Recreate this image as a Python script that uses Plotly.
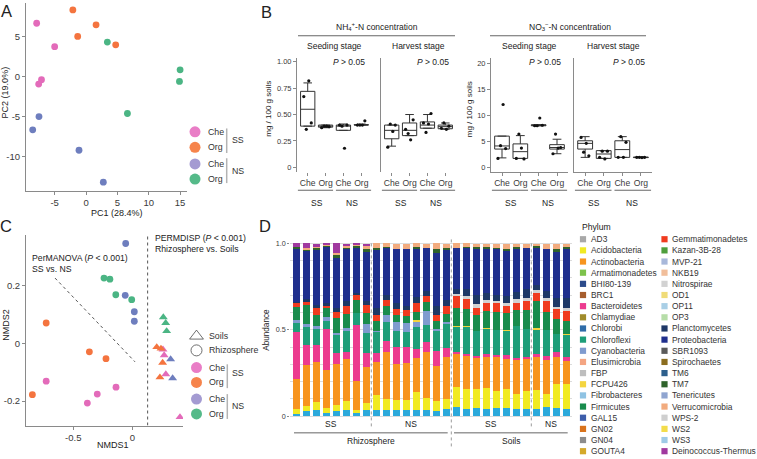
import plotly.graph_objects as go

W, H = 757, 459
FONT = "Liberation Sans, Arial, Helvetica, sans-serif"
TXT = "#222222"
TICK = "#3a3a3a"
AXC = "#8a8a8a"

# ---------------- Panel A : PCA ----------------
A_CHE_SS_PC1 = [-7.87, -5.0, -7.1, -7.55]
A_CHE_SS_PC2 = [6.7, 3.77, -0.37, -0.92]
A_ORG_SS_PC1 = [-2.1, 1.6, -1.33, 4.73]
A_ORG_SS_PC2 = [8.37, 6.5, 5.05, 4.0]
A_CHE_NS_PC1 = [-7.5, -8.5, -1.12, 2.76]
A_CHE_NS_PC2 = [-4.98, -6.64, -9.2, -13.2]
A_ORG_NS_PC1 = [3.4, 15.0, 14.9, 6.6]
A_ORG_NS_PC2 = [4.35, 0.87, -0.58, -4.6]
A_XTICKS = [-5, 0, 5, 10, 15]
A_YTICKS = [-10, -5, 0, 5]

GROUP_LABELS = ["Che", "Org", "Che", "Org"]
STAGES = ["SS", "NS"]
GROUP_COLORS = ["#E36BBA", "#F4743F", "#6E7EBE", "#4BB584"]
LEGEND_COLORS = ["#E97DC6", "#F6844C", "#A49BD2", "#55BA89"]

# ---------------- Panel B : boxplots ----------------
CATS = ["Che", "Org", "Che", "Org"]
NH4_SEED_Q1 = [0.39, 0.38, 0.35, 0.40]
NH4_SEED_MED = [0.55, 0.39, 0.39, 0.40]
NH4_SEED_Q3 = [0.72, 0.40, 0.40, 0.405]
NH4_SEED_LO = [0.39, 0.375, 0.35, 0.40]
NH4_SEED_HI = [0.80, 0.40, 0.41, 0.41]
NH4_SEED_PTS = [[0.67, 0.36, 0.82, 0.42], [0.375, 0.39, 0.39, 0.385],
                [0.40, 0.39, 0.18, 0.40], [0.40, 0.40, 0.40, 0.44]]

NH4_HARV_Q1 = [0.27, 0.30, 0.37, 0.365]
NH4_HARV_MED = [0.35, 0.35, 0.40, 0.385]
NH4_HARV_Q3 = [0.40, 0.42, 0.43, 0.40]
NH4_HARV_LO = [0.20, 0.30, 0.37, 0.36]
NH4_HARV_HI = [0.40, 0.50, 0.50, 0.42]
NH4_HARV_PTS = [[0.19, 0.41, 0.34, 0.40], [0.36, 0.32, 0.26, 0.45],
                [0.42, 0.33, 0.41, 0.51], [0.37, 0.42, 0.36, 0.39]]

NO3_SEED_Q1 = [3.5, 1.7, 8.0, 3.5]
NO3_SEED_MED = [4.1, 3.0, 8.1, 3.8]
NO3_SEED_Q3 = [6.0, 4.5, 8.2, 4.35]
NO3_SEED_LO = [1.8, 1.7, 8.0, 2.6]
NO3_SEED_HI = [6.0, 6.1, 8.2, 5.4]
NO3_SEED_PTS = [[1.7, 4.15, 12.1, 3.6], [1.7, 6.4, 3.7, 1.6],
                [8.0, 8.0, 9.5, 8.1], [2.6, 6.4, 3.7, 3.8]]

NO3_HARV_Q1 = [3.5, 1.7, 1.9, 1.85]
NO3_HARV_MED = [4.6, 2.55, 3.4, 1.9]
NO3_HARV_Q3 = [5.1, 3.2, 5.1, 1.95]
NO3_HARV_LO = [1.9, 1.7, 1.9, 1.85]
NO3_HARV_HI = [5.9, 3.2, 5.9, 1.95]
NO3_HARV_PTS = [[5.75, 2.9, 4.6, 2.2], [1.9, 3.1, 1.6, 3.1],
                [1.9, 5.9, 1.9, 4.8], [1.9, 1.9, 1.85, 1.9]]
JIT = [-0.22, -0.08, 0.06, 0.2]

NH4_TICKS = [0, 0.25, 0.5, 0.75, 1.0]
NH4_TICKTEXT = ["0", "0.25", "0.50", "0.75", "1.00"]
NO3_TICKS = [0, 5, 10, 15, 20]

# ---------------- Panel C : NMDS ----------------
C_CHE_SS_R_X = [-0.73, -0.297, -0.138, -0.381]
C_CHE_SS_R_Y = [-0.131, -0.176, -0.152, -0.207]
C_ORG_SS_R_X = [-0.73, -0.364, -0.223, -0.847]
C_ORG_SS_R_Y = [0.071, -0.029, -0.053, -0.178]
C_CHE_NS_R_X = [-0.056, -0.06, 0.017, 0.017]
C_CHE_NS_R_Y = [0.347, 0.167, 0.11, 0.077]
C_ORG_NS_R_X = [-0.24, -0.19, -0.14, -0.005]
C_ORG_NS_R_Y = [0.227, 0.223, 0.169, 0.152]
C_CHE_SS_S_X = [0.26, 0.27, 0.284, 0.404]
C_CHE_SS_S_Y = [-0.021, -0.041, -0.107, -0.256]
C_ORG_SS_S_X = [0.207, 0.243, 0.257, 0.234]
C_ORG_SS_S_Y = [-0.013, -0.018, -0.067, -0.118]
C_CHE_NS_S_X = [0.325, 0.342]
C_CHE_NS_S_Y = [-0.055, -0.121]
C_ORG_NS_S_X = [0.263, 0.283, 0.291]
C_ORG_NS_S_Y = [0.091, 0.071, 0.043]
PERMDISP_X = 0.13
MANOVA_LINE_X = [-0.655, 0.023]
MANOVA_LINE_Y = [0.227, -0.064]

# ---------------- Panel D : stacked bars ----------------
BAR_GROUPS = [("SS", 8), ("NS", 8), ("SS", 8), ("NS", 4)]
COMPARTMENTS = [("Rhizosphere", 16), ("Soils", 12)]

others = [0.015, 0.031, 0.034, 0.021, 0.031, 0.034, 0.019, 0.036,
          0.038, 0.034, 0.038, 0.034, 0.038, 0.034, 0.031, 0.040,
          0.054, 0.044, 0.048, 0.044, 0.048, 0.048, 0.044, 0.044,
          0.040, 0.054, 0.048, 0.040]
acidobacteria = [0.025, 0.029, 0.048, 0.029, 0.036, 0.057, 0.015, 0.040,
                 0.086, 0.067, 0.054, 0.061, 0.102, 0.071, 0.057, 0.057,
                 0.115, 0.111, 0.107, 0.119, 0.100, 0.111, 0.086, 0.105,
                 0.113, 0.077, 0.140, 0.144]
actinobacteria = [0.176, 0.238, 0.230, 0.215, 0.236, 0.243, 0.169, 0.207,
                  0.188, 0.268, 0.211, 0.216, 0.195, 0.264, 0.205, 0.243,
                  0.192, 0.192, 0.180, 0.178, 0.192, 0.172, 0.197, 0.182,
                  0.188, 0.197, 0.153, 0.138]
bacteroidetes = [0.274, 0.115, 0.100, 0.240, 0.063, 0.038, 0.324, 0.082,
                 0.054, 0.067, 0.096, 0.090, 0.054, 0.061, 0.086, 0.057,
                 0.010, 0.013, 0.015, 0.019, 0.013, 0.023, 0.010, 0.010,
                 0.019, 0.019, 0.029, 0.019]
chloroflexi = [0.052, 0.102, 0.090, 0.048, 0.103, 0.121, 0.069, 0.119,
               0.119, 0.109, 0.092, 0.088, 0.128, 0.096, 0.115, 0.134,
               0.144, 0.159, 0.144, 0.144, 0.146, 0.140, 0.186, 0.163,
               0.140, 0.151, 0.105, 0.128]
cyanobacteria = [0.015, 0.019, 0.019, 0.019, 0.015, 0.019, 0.0, 0.048,
                 0.010, 0.038, 0.052, 0.048, 0.031, 0.082, 0.010, 0.013,
                 0.0, 0.0, 0.0, 0.0, 0.0, 0.0, 0.0, 0.0,
                 0.0, 0.0, 0.0, 0.0]
fcpu426 = [0.0, 0.0, 0.0, 0.0, 0.0, 0.0, 0.0, 0.0,
           0.0, 0.0, 0.0, 0.0, 0.006, 0.0, 0.0, 0.0,
           0.006, 0.004, 0.0, 0.008, 0.0, 0.004, 0.0, 0.0,
           0.008, 0.0, 0.0, 0.006]
firmicutes = [0.077, 0.109, 0.063, 0.052, 0.086, 0.077, 0.077, 0.067,
              0.057, 0.054, 0.042, 0.042, 0.050, 0.052, 0.048, 0.050,
              0.103, 0.100, 0.092, 0.098, 0.103, 0.098, 0.092, 0.111,
              0.159, 0.105, 0.086, 0.077]
gemmatimonadetes = [0.019, 0.019, 0.042, 0.015, 0.033, 0.048, 0.027, 0.042,
                    0.034, 0.038, 0.034, 0.034, 0.054, 0.034, 0.033, 0.042,
                    0.073, 0.057, 0.042, 0.048, 0.054, 0.042, 0.042, 0.052,
                    0.048, 0.063, 0.057, 0.057]
nitrospirae = [0.0, 0.0, 0.0, 0.0, 0.0, 0.0, 0.0, 0.0,
               0.0, 0.0, 0.0, 0.0, 0.0, 0.0, 0.0, 0.0,
               0.010, 0.013, 0.019, 0.013, 0.008, 0.019, 0.019, 0.019,
               0.013, 0.019, 0.015, 0.019]
planctomycetes = [0.010, 0.015, 0.019, 0.015, 0.025, 0.029, 0.015, 0.025,
                  0.042, 0.029, 0.038, 0.023, 0.033, 0.029, 0.054, 0.038,
                  0.029, 0.044, 0.052, 0.044, 0.040, 0.038, 0.042, 0.048,
                  0.034, 0.038, 0.052, 0.057]
proteobacteria = [0.305, 0.278, 0.320, 0.325, 0.287, 0.300, 0.259, 0.287,
                  0.335, 0.268, 0.310, 0.330, 0.278, 0.249, 0.307, 0.291,
                  0.239, 0.234, 0.268, 0.253, 0.262, 0.259, 0.249, 0.239,
                  0.211, 0.243, 0.268, 0.282]
tm7 = [0.010, 0.010, 0.010, 0.006, 0.019, 0.010, 0.010, 0.013,
       0.010, 0.006, 0.0, 0.0, 0.010, 0.0, 0.023, 0.010,
       0.0, 0.010, 0.010, 0.010, 0.008, 0.013, 0.011, 0.0,
       0.010, 0.0, 0.013, 0.010]
verrucomicrobia = [0.004, 0.008, 0.006, 0.004, 0.010, 0.008, 0.008, 0.017,
                   0.027, 0.025, 0.031, 0.031, 0.021, 0.025, 0.031, 0.021,
                   0.025, 0.021, 0.021, 0.021, 0.023, 0.031, 0.019, 0.025,
                   0.015, 0.031, 0.031, 0.021]
deinococcus = [0.019, 0.029, 0.017, 0.013, 0.056, 0.015, 0.010, 0.015,
               0.0, 0.0, 0.0, 0.0, 0.0, 0.0, 0.0, 0.0,
               0.0, 0.0, 0.0, 0.0, 0.0, 0.0, 0.0, 0.0,
               0.0, 0.0, 0.0, 0.0]
OTHERS_COLOR = "#2CA9DB"

PHYLA = ["AD3", "Acidobacteria", "Actinobacteria", "Armatimonadetes", "BHI80-139",
         "BRC1", "Bacteroidetes", "Chlamydiae", "Chlorobi", "Chloroflexi",
         "Cyanobacteria", "Elusimicrobia", "FBP", "FCPU426", "Fibrobacteres",
         "Firmicutes", "GAL15", "GN02", "GN04", "GOUTA4",
         "Gemmatimonadetes", "Kazan-3B-28", "MVP-21", "NKB19", "Nitrospirae",
         "OD1", "OP11", "OP3", "Planctomycetes", "Proteobacteria",
         "SBR1093", "Spirochaetes", "TM6", "TM7", "Tenericutes",
         "Verrucomicrobia", "WPS-2", "WS2", "WS3", "Deinococcus-Thermus"]
PHYLUM_COLORS = ["#A8A8A8", "#F1EA22", "#F7941E", "#7DC24B", "#2C4B8B",
                 "#A65E2E", "#EC3B8F", "#A08B2B", "#2F6CA8", "#1E9E79",
                 "#7F9BCF", "#F4A582", "#BEBEBE", "#F4D53F", "#8FC3E3",
                 "#198C4D", "#3D5DAA", "#D9731C", "#8C8C8C", "#D4A92A",
                 "#F03B1F", "#4E9E3C", "#A8B8DA", "#F1BE9B", "#D2D2D2",
                 "#F0DC78", "#A9CFE6", "#B6DDA8", "#1E3866", "#1F2F8D",
                 "#5A5A5A", "#8B6D1E", "#2D5F8C", "#2F632B", "#90A5D0",
                 "#F2AB7E", "#CFCFCF", "#F3DC4A", "#9ECAE6", "#A0399F"]
STACK = [("Others", others), ("Acidobacteria", acidobacteria),
         ("Actinobacteria", actinobacteria), ("Bacteroidetes", bacteroidetes),
         ("Chloroflexi", chloroflexi), ("Cyanobacteria", cyanobacteria),
         ("FCPU426", fcpu426), ("Firmicutes", firmicutes),
         ("Gemmatimonadetes", gemmatimonadetes), ("Nitrospirae", nitrospirae),
         ("Planctomycetes", planctomycetes), ("Proteobacteria", proteobacteria),
         ("TM7", tm7), ("Verrucomicrobia", verrucomicrobia),
         ("Deinococcus-Thermus", deinococcus)]

# ---------------- geometry (pixels) ----------------
A_X_PX, A_Y_PX = (26, 187), (3, 192)
A_XR, A_YR = [-9.57, 16.1], [-14.27, 9.24]
B_Y_PX = (58, 173)
B_FACETS_PX = [(297, 372), (381, 456), (491, 568), (574, 652)]
B_XR = [0.4, 4.6]
NH4_YR = [-0.044, 1.04]
NO3_YR = [-0.9, 21.15]
C_X_PX, C_Y_PX = (26, 183), (236.7, 428.3)
C_XR, C_YR = [-0.901, 0.4297], [-0.285, 0.376]
D_X_PX, D_Y_PX = (290.3, 572.3), (240, 421)
D_XR, D_YR = [0.4, 28.6], [-0.0115, 1.0287]


def xdom(p):
    return [p[0] / W, p[1] / W]


def ydom(p):
    return [1 - p[1] / H, 1 - p[0] / H]


def xmap(p, r, v):
    return p[0] + (v - r[0]) / (r[1] - r[0]) * (p[1] - p[0])


def ann(text, x, y, size=8.7, xa="center", ya="middle", angle=0, color=TXT,
        xref="paper"):
    return dict(text=text, x=(x / W if xref == "paper" else x), y=1 - y / H,
                xref=xref, yref="paper", xanchor=xa, yanchor=ya,
                showarrow=False, textangle=angle,
                font=dict(family=FONT, size=size, color=color))


def seg(x0, y0, x1, y1, color="#555555", width=1, dash="solid"):
    return dict(type="line", xref="paper", yref="paper", x0=x0 / W, x1=x1 / W,
                y0=1 - y0 / H, y1=1 - y1 / H,
                line=dict(color=color, width=width, dash=dash))


fig = go.Figure()
annotations, shapes = [], []

# ---- A traces
for xs, ys, col in zip([A_CHE_SS_PC1, A_ORG_SS_PC1, A_CHE_NS_PC1, A_ORG_NS_PC1],
                       [A_CHE_SS_PC2, A_ORG_SS_PC2, A_CHE_NS_PC2, A_ORG_NS_PC2],
                       GROUP_COLORS):
    fig.add_trace(go.Scatter(x=xs, y=ys, mode="markers", xaxis="x", yaxis="y",
                             marker=dict(size=6.8, color=col), hoverinfo="skip"))

# ---- B traces
B_SETS = [
    (NH4_SEED_Q1, NH4_SEED_MED, NH4_SEED_Q3, NH4_SEED_LO, NH4_SEED_HI, NH4_SEED_PTS),
    (NH4_HARV_Q1, NH4_HARV_MED, NH4_HARV_Q3, NH4_HARV_LO, NH4_HARV_HI, NH4_HARV_PTS),
    (NO3_SEED_Q1, NO3_SEED_MED, NO3_SEED_Q3, NO3_SEED_LO, NO3_SEED_HI, NO3_SEED_PTS),
    (NO3_HARV_Q1, NO3_HARV_MED, NO3_HARV_Q3, NO3_HARV_LO, NO3_HARV_HI, NO3_HARV_PTS),
]
pos = [1, 2, 3, 4]
for k, (q1, med, q3, lo, hi, pts) in enumerate(B_SETS):
    xa, ya = "x%d" % (k + 2), "y%d" % (k + 2)
    fig.add_trace(go.Box(x=pos, q1=q1, median=med, q3=q3, lowerfence=lo,
                         upperfence=hi, width=0.8, whiskerwidth=0.6,
                         fillcolor="white", line=dict(color="#333333", width=1),
                         boxpoints=False, xaxis=xa, yaxis=ya, hoverinfo="skip"))
    px_, py_ = [], []
    for gi, grp in enumerate(pts):
        for j, v in enumerate(grp):
            px_.append(pos[gi] + JIT[j])
            py_.append(v)
    fig.add_trace(go.Scatter(x=px_, y=py_, mode="markers", xaxis=xa, yaxis=ya,
                             marker=dict(size=3.2, color="#111111"),
                             hoverinfo="skip"))

# ---- C traces
C_SETS = [
    (C_CHE_SS_R_X, C_CHE_SS_R_Y, GROUP_COLORS[0], "circle"),
    (C_ORG_SS_R_X, C_ORG_SS_R_Y, GROUP_COLORS[1], "circle"),
    (C_CHE_NS_R_X, C_CHE_NS_R_Y, GROUP_COLORS[2], "circle"),
    (C_ORG_NS_R_X, C_ORG_NS_R_Y, GROUP_COLORS[3], "circle"),
    (C_CHE_SS_S_X, C_CHE_SS_S_Y, GROUP_COLORS[0], "triangle-up"),
    (C_ORG_SS_S_X, C_ORG_SS_S_Y, GROUP_COLORS[1], "triangle-up"),
    (C_CHE_NS_S_X, C_CHE_NS_S_Y, GROUP_COLORS[2], "triangle-up"),
    (C_ORG_NS_S_X, C_ORG_NS_S_Y, GROUP_COLORS[3], "triangle-up"),
]
for xs, ys, col, sym in C_SETS:
    fig.add_trace(go.Scatter(x=xs, y=ys, mode="markers", xaxis="x6", yaxis="y6",
                             marker=dict(size=6.8 if sym == "circle" else 7.8,
                                         color=col, symbol=sym),
                             hoverinfo="skip"))

# ---- D traces
color_of = dict(zip(PHYLA, PHYLUM_COLORS))
color_of["Others"] = OTHERS_COLOR
nbars = len(others)
bar_x = list(range(1, nbars + 1))
for name, vals in STACK:
    fig.add_trace(go.Bar(x=bar_x, y=vals, name=name, xaxis="x7", yaxis="y7",
                         width=0.72, marker=dict(color=color_of[name], line=dict(width=0)),
                         hoverinfo="skip"))

# ---- legend keys (overlay axis in pixel space)
A_LEG_Y = [132.7, 148.3, 165.0, 180.3]
fig.add_trace(go.Scatter(x=[195] * 4, y=A_LEG_Y, mode="markers", xaxis="x8", yaxis="y8",
                         marker=dict(size=11, color=LEGEND_COLORS), hoverinfo="skip"))
C_LEG_Y = [370.0, 385.0, 401.7, 416.7]
fig.add_trace(go.Scatter(x=[196.5] * 4, y=C_LEG_Y, mode="markers", xaxis="x8", yaxis="y8",
                         marker=dict(size=11, color=LEGEND_COLORS), hoverinfo="skip"))
fig.add_trace(go.Scatter(x=[196.5, 196.5], y=[338.3, 352.7], mode="markers",
                         xaxis="x8", yaxis="y8",
                         marker=dict(size=[12, 11], color="#333333",
                                     symbol=["triangle-up-open", "circle-open"],
                                     line=dict(width=1)), hoverinfo="skip"))
D_ROW0, D_ROWH = 240.8, 11.23
half = len(PHYLA) // 2
leg_x = [583 if i < half else 664.5 for i in range(len(PHYLA))]
leg_y = [D_ROW0 + (i % half) * D_ROWH for i in range(len(PHYLA))]
fig.add_trace(go.Scatter(x=leg_x, y=leg_y, mode="markers", xaxis="x8", yaxis="y8",
                         marker=dict(size=6.2, symbol="square", color=PHYLUM_COLORS),
                         hoverinfo="skip"))
for i, name in enumerate(PHYLA):
    annotations.append(ann(name, (588.5 if i < half else 669.5), leg_y[i], size=8.4,
                           xa="left", color="#333333"))
annotations.append(ann("Phylum", 580, 228, size=8.6, xa="left"))

# ---- A annotations
annotations += [
    ann("A", 6, 11, size=16.5),
    ann("PC2 (19.0%)", 5, 93, size=9, angle=-90),
    ann("PC1 (28.4%)", 117, 214.5, size=9),
]
for lab, yy in zip(GROUP_LABELS, A_LEG_Y):
    annotations.append(ann(lab, 205.5, yy, size=8.8, xa="left", color="#333333"))
shapes += [seg(226.7, 129.3, 226.7, 154, "#b3b3b3", 1.5),
           seg(226.7, 159.3, 226.7, 184.3, "#b3b3b3", 1.5)]
annotations += [ann(STAGES[0], 238, 141, size=8.8, color="#333333"),
                ann(STAGES[1], 238, 171.7, size=8.8, color="#333333")]

# ---- B annotations
annotations += [
    ann("B", 266, 12, size=16.5),
    ann("NH<sub>4</sub><sup>+</sup>-N concentration", 377, 27, size=8.5),
    ann("NO<sub>3</sub><sup>−</sup>-N concentration", 570, 27, size=8.5),
    ann("mg / 100 g soils", 268.5, 110, size=8, angle=-90),
    ann("mg / 100 g soils", 469, 110, size=8, angle=-90),
]
shapes += [seg(298, 36, 455, 36, "#666666", 1), seg(490, 36, 646, 36, "#666666", 1)]
STRIPS = ["Seeding stage", "Harvest stage", "Seeding stage", "Harvest stage"]
for k, (p0, p1) in enumerate(B_FACETS_PX):
    annotations.append(ann(STRIPS[k], (p0 + p1) / 2, 46, size=8.5))
    annotations.append(ann("<i>P</i> &gt; 0.05", p1 - 5, 62, size=8.5, xa="right"))
    f = lambda v: xmap((p0, p1), B_XR, v)
    shapes.append(seg(f(0.45), 191.5, f(2.42), 191.5, "#666666", 1))
    shapes.append(seg(f(2.58), 191.5, f(4.55), 191.5, "#666666", 1))
    annotations.append(ann(STAGES[0], f(1.5), 204, size=8.5))
    annotations.append(ann(STAGES[1], f(3.5), 204, size=8.5))

# ---- C annotations
annotations += [
    ann("C", 6, 227, size=16.5),
    ann("NMDS2", 6, 327, size=9, angle=-90),
    ann("NMDS1", 113, 447.5, size=9),
    ann("PerMANOVA (<i>P</i> &lt; 0.001)", 30, 259.3, size=8.7, xa="left"),
    ann("SS vs. NS", 30, 270.3, size=8.7, xa="left"),
    ann("PERMDISP (<i>P</i> &lt; 0.001)", 153.3, 239.3, size=8.7, xa="left"),
    ann("Rhizosphere vs. Soils", 153.3, 250.3, size=8.7, xa="left"),
    ann("Soils", 207, 338.3, size=8.8, xa="left", color="#333333"),
    ann("Rhizosphere", 207, 352.7, size=8.8, xa="left", color="#333333"),
]
for lab, yy in zip(GROUP_LABELS, C_LEG_Y):
    annotations.append(ann(lab, 207, yy, size=8.8, xa="left", color="#333333"))
shapes += [seg(227.3, 366.7, 227.3, 390.7, "#b3b3b3", 1.5),
           seg(227.3, 396.7, 227.3, 421.7, "#b3b3b3", 1.5)]
annotations += [ann(STAGES[0], 238, 375, size=8.8, color="#333333"),
                ann(STAGES[1], 238, 408.3, size=8.8, color="#333333")]
shapes.append(dict(type="line", xref="x6", yref="y6", x0=PERMDISP_X, x1=PERMDISP_X,
                   y0=C_YR[0], y1=C_YR[1], line=dict(color="#555555", width=1, dash="dot")))
shapes.append(dict(type="line", xref="x6", yref="y6", x0=MANOVA_LINE_X[0],
                   x1=MANOVA_LINE_X[1], y0=MANOVA_LINE_Y[0], y1=MANOVA_LINE_Y[1],
                   line=dict(color="#555555", width=1, dash="dot")))

# ---- D annotations
annotations += [ann("D", 265, 227, size=16.5),
                ann("Abundance", 267, 332, size=8.2, angle=-90)]
dx = lambda v: xmap(D_X_PX, D_XR, v)
start = 0
bounds = []
for lab, n in BAR_GROUPS:
    annotations.append(ann(lab, start + (n + 1) / 2, 427, size=8.5, xref="x7"))
    start += n
    bounds.append(start + 0.5)
for b in bounds[:-1]:
    longer = (b == COMPARTMENTS[0][1] + 0.5)
    shapes.append(seg(dx(b), 241 if longer else 245, dx(b), 452 if longer else 430,
                      "#9a9a9a", 1, "dot"))
start = 0
for lab, n in COMPARTMENTS:
    shapes.append(seg(dx(start + 0.77), 435.7, dx(start + n + 0.14), 435.7, "#666666", 1))
    annotations.append(ann(lab, start + (n + 1) / 2, 444, size=8.5, xref="x7"))
    start += n


def axis(dom, rng, anchor, **kw):
    d = dict(domain=dom, range=rng, anchor=anchor, showgrid=False, zeroline=False,
             fixedrange=True, linecolor=AXC, linewidth=1, tickcolor=AXC, ticklen=3,
             tickwidth=1, ticks="outside", showline=True,
             tickfont=dict(size=9.5, color=TICK, family=FONT))
    d.update(kw)
    return d


lay = dict(
    width=W, height=H, autosize=False, margin=dict(l=0, r=0, t=0, b=0),
    paper_bgcolor="white", plot_bgcolor="rgba(0,0,0,0)", showlegend=False,
    barmode="stack", hovermode=False, font=dict(family=FONT, size=9, color=TXT),
    annotations=annotations, shapes=shapes,
)
lay["xaxis"] = axis(xdom(A_X_PX), A_XR, "y", tickvals=A_XTICKS,
                    ticktext=[str(v) for v in A_XTICKS])
lay["yaxis"] = axis(ydom(A_Y_PX), A_YR, "x", tickvals=A_YTICKS,
                    ticktext=[str(v) for v in A_YTICKS])
for k, p in enumerate(B_FACETS_PX):
    n = k + 2
    is_no3 = k >= 2
    first = k in (0, 2)
    lay["xaxis%d" % n] = axis(xdom(p), B_XR, "y%d" % n, tickvals=pos, ticktext=CATS,
                              showline=is_no3,
                              tickfont=dict(size=8.6, color=TICK, family=FONT))
    ykw = dict(tickvals=NO3_TICKS if is_no3 else NH4_TICKS,
               ticktext=[str(v) for v in NO3_TICKS] if is_no3 else NH4_TICKTEXT,
               tickfont=dict(size=7.5, color=TICK, family=FONT))
    if not first:
        ykw.update(showticklabels=False, ticks="")
    lay["yaxis%d" % n] = axis(ydom(B_Y_PX), NO3_YR if is_no3 else NH4_YR,
                              "x%d" % n, **ykw)
lay["xaxis6"] = axis(xdom(C_X_PX), C_XR, "y6", tickvals=[-0.5, 0], ticktext=["-0.5", "0"])
lay["yaxis6"] = axis(ydom(C_Y_PX), C_YR, "x6", tickvals=[-0.2, 0, 0.2],
                     ticktext=["-0.2", "0", "0.2"])
lay["xaxis7"] = axis(xdom(D_X_PX), D_XR, "y7", showline=False, ticks="",
                     showticklabels=False)
lay["yaxis7"] = axis(ydom(D_Y_PX), D_YR, "x7", showline=False, ticklen=2,
                     tickvals=[0, 0.5, 1.0], ticktext=["0", "0.5", "1.0"],
                     showgrid=True, gridcolor="#dcdcdc", gridwidth=1,
                     minor=dict(dtick=0.1, tick0=0, showgrid=True, gridcolor="#dcdcdc",
                                gridwidth=1, ticks=""),
                     tickfont=dict(size=7.2, color=TICK, family=FONT))
lay["xaxis8"] = dict(domain=[0, 1], range=[0, W], anchor="y8", visible=False, fixedrange=True)
lay["yaxis8"] = dict(domain=[0, 1], range=[H, 0], anchor="x8", visible=False, fixedrange=True)
fig.update_layout(**lay)

fig.write_html("out.html", config={"displayModeBar": False},
               post_script="document.body.style.margin='0';document.body.style.overflow='hidden';")
